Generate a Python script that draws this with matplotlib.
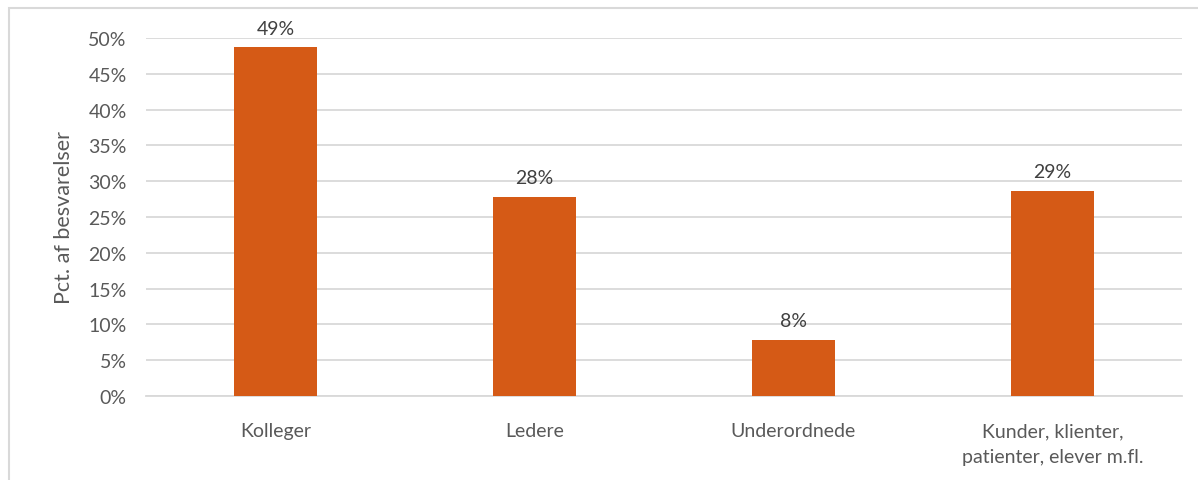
import matplotlib.pyplot as plt
from matplotlib.patches import Rectangle
from matplotlib.ticker import PercentFormatter, MultipleLocator

kategorier = ["Kolleger", "Ledere", "Underordnede", "Kunder, klienter,\npatienter, elever m.fl."]
andele = [48.7, 27.8, 7.8, 28.6]
etiketter = ["49%", "28%", "8%", "29%"]

plt.rcParams['font.family'] = ['Lato', 'DejaVu Sans']
graa = '#595959'

fig = plt.figure(figsize=(11.98, 4.81), dpi=100)
# kant om diagramomraadet
fig.patches.append(Rectangle((9 / 1198, -0.1), 1.2, 1 - 9 / 481 + 0.1, transform=fig.transFigure,
                             fill=False, edgecolor='#D9D9D9', linewidth=1.5))

ax = fig.add_axes([146 / 1198, 1 - 397 / 481, (1182 - 146) / 1198, (397 - 39) / 481])
x = range(len(kategorier))
ax.bar(x, andele, width=0.32, color='#D55A16', zorder=3)
for xi, v, t in zip(x, andele, etiketter):
    ax.text(xi, v + 1.5, t, ha='center', va='bottom', fontsize=14, color='#404040')

ax.set_xlim(-0.5, len(kategorier) - 0.5)
ax.set_ylim(0, 50)
ax.yaxis.set_major_locator(MultipleLocator(5))
ax.yaxis.set_major_formatter(PercentFormatter(decimals=0))
ax.set_xticks(list(x))
ax.set_xticklabels(kategorier, fontsize=14, color=graa, linespacing=1.6)
ax.tick_params(axis='y', labelsize=14, labelcolor=graa, length=0, pad=14)
ax.tick_params(axis='x', length=0, pad=19)
ax.grid(axis='y', color='#D9D9D9', linewidth=1.3, zorder=0)
for s in ['top', 'right', 'left']:
    ax.spines[s].set_visible(False)
ax.spines['bottom'].set_color('#D9D9D9')
ax.spines['bottom'].set_linewidth(1.3)
ax.set_ylabel("Pct. af besvarelser", fontsize=15.5, color=graa, labelpad=10)

fig.savefig("out.png", dpi=100)
